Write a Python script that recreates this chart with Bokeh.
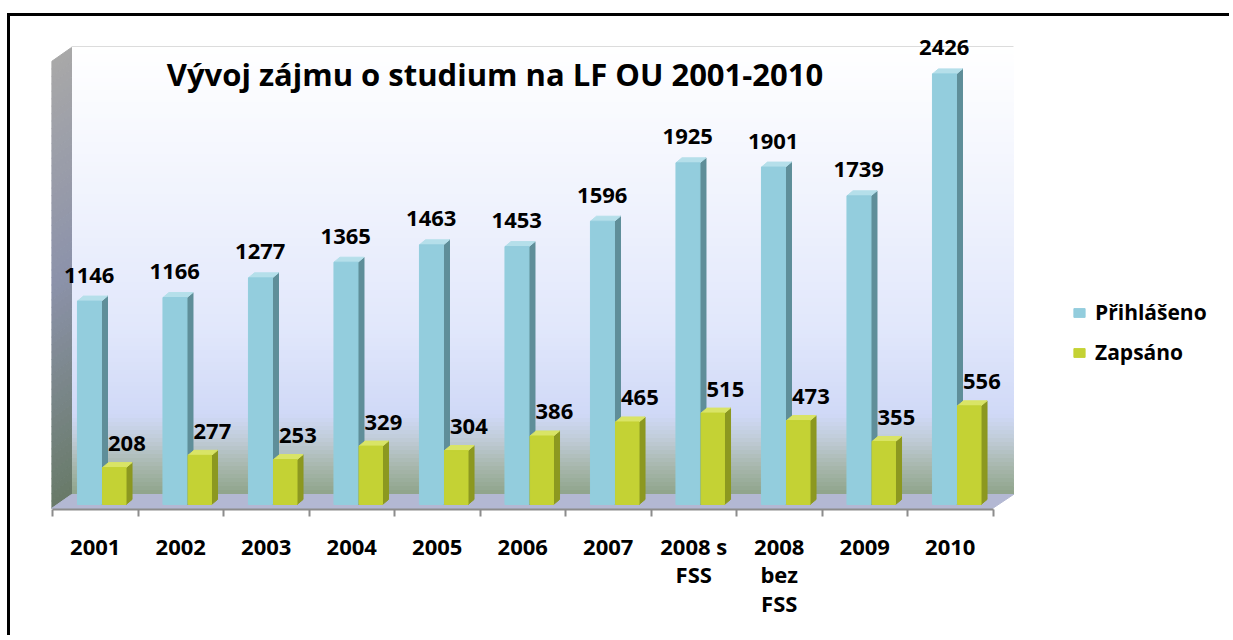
import numpy as np
from bokeh.plotting import figure
from bokeh.models import (LinearAxis, FixedTicker, Range1d, Legend, LegendItem,
                          ColumnDataSource, Label)
from bokeh.core.properties import value
from bokeh.embed import file_html
from bokeh.resources import INLINE

# ---------------- data ----------------
categories = ["2001", "2002", "2003", "2004", "2005", "2006", "2007",
              "2008 s\nFSS", "2008\nbez\nFSS", "2009", "2010"]
prihlaseno = [1146, 1166, 1277, 1365, 1463, 1453, 1596, 1925, 1901, 1739, 2426]
zapsano = [208, 277, 253, 329, 304, 386, 465, 515, 473, 355, 556]
series_names = ["Přihlášeno", "Zapsáno"]
title_text = "Vývoj zájmu o studium na LF OU 2001-2010"

# ---------------- layout helpers (page pixels -> data) ----------------
PX_PER_CAT = 85.5
PX_PER_UNIT = 0.1775
X0_PAGE = 53
BASE_PAGE = 505
FONT = "Open Sans"


def X(px):
    return (px - X0_PAGE) / PX_PER_CAT


def Y(py):
    return (BASE_PAGE - py) / PX_PER_UNIT


FL, FR, FT, FB = 52, 1230, 17, 510

p = figure(frame_width=FR - FL, frame_height=FB - FT,
           x_range=Range1d(X(FL), X(FR)), y_range=Range1d(Y(FB), Y(FT)),
           x_axis_type=None, y_axis_type=None,
           toolbar_location=None, output_backend="svg",
           min_border_left=41, min_border_right=0, min_border_top=0,
           min_border_bottom=126)
p.margin = (13, 0, 0, 7)
p.styles = {"border-top": "3px solid black", "border-left": "3px solid black"}
p.outline_line_color = None
p.background_fill_color = "white"
p.border_fill_color = "white"


def lerp_color(stops, py):
    for (y0, c0), (y1, c1) in zip(stops[:-1], stops[1:]):
        if y0 <= py <= y1:
            t = (py - y0) / (y1 - y0)
            c = [int(round(a + (b - a) * t)) for a, b in zip(c0, c1)]
            return "#%02x%02x%02x" % tuple(c)
    c = stops[-1][1] if py > stops[-1][0] else stops[0][1]
    return "#%02x%02x%02x" % tuple(c)


# back wall gradient
wall_stops = [(47, (255, 255, 255)), (200, (240, 243, 253)), (330, (225, 231, 251)),
              (415, (208, 217, 247)), (440, (192, 204, 216)), (468, (167, 183, 172)),
              (495, (143, 164, 138))]
step = 4
ys_top, ys_bot, cols = [], [], []
for py in range(47, 495, step):
    ys_top.append(Y(py))
    ys_bot.append(Y(min(py + step, 495)))
    cols.append(lerp_color(wall_stops, py + step / 2))
p.quad(left=X(72), right=X(1014), top=ys_top, bottom=ys_bot,
       fill_color=cols, line_color=cols, line_width=1)
p.line([X(72), X(1014)], [Y(47), Y(47)], line_color="#dcdcdc", line_width=1)

# side wall gradient
side_stops = [(0.0, (168, 168, 168)), (0.5, (140, 146, 170)), (1.0, (104, 122, 104))]
n = 60
sxs, sys_, scols = [], [], []
for i in range(n):
    t0, t1 = i / n, (i + 1) / n
    yl0, yl1 = 62 + (509 - 62) * t0, 62 + (509 - 62) * t1
    yr0, yr1 = 48 + (495 - 48) * t0, 48 + (495 - 48) * t1
    sxs.append([X(52), X(72), X(72), X(52)])
    sys_.append([Y(yl0), Y(yr0), Y(yr1), Y(yl1)])
    scols.append(lerp_color(side_stops, (t0 + t1) / 2))
p.patches(sxs, sys_, fill_color=scols, line_color=scols, line_width=1)

# floor
p.patch([X(52), X(72), X(1014), X(993)], [Y(509), Y(495), Y(495), Y(509)],
        fill_color="#b3b8d3", line_color="#b3b8d3")

# ---------------- bars ----------------
idx = np.arange(len(categories))
DX = 6 / PX_PER_CAT
DY = 5 / PX_PER_UNIT


def bar3d(left, right, vals, front, side, top):
    src = ColumnDataSource(dict(left=left, right=right, top=vals,
                                bottom=[0] * len(vals)))
    sx = [[r, r + DX, r + DX, r] for r in right]
    sy = [[0, DY, v + DY, v] for v in vals]
    tx = [[l, l + DX, r + DX, r] for l, r in zip(left, right)]
    ty = [[v, v + DY, v + DY, v] for v in vals]
    p.patches(sx, sy, fill_color=side, line_color=side)
    p.patches(tx, ty, fill_color=top, line_color=top)
    return p.quad(left="left", right="right", top="top", bottom="bottom",
                  source=src, fill_color=front, line_color=front)


rb = bar3d(list(idx + 0.292), list(idx + 0.573), prihlaseno,
           "#93cddd", "#5f8e99", "#b5dfea")
ry = bar3d(list(idx + 0.585), list(idx + 0.860), zapsano,
           "#c4d234", "#8c9820", "#d9e466")

# value labels
p.text(x=list(idx + 0.43), y=prihlaseno, text=[str(v) for v in prihlaseno],
       text_align="center", text_baseline="middle", y_offset=-26,
       text_font=value(FONT), text_font_size="22px", text_font_style="bold",
       text_color="black")
p.text(x=list(idx + 0.87), y=zapsano, text=[str(v) for v in zapsano],
       text_align="center", text_baseline="middle", y_offset=-24,
       text_font=value(FONT), text_font_size="22px", text_font_style="bold",
       text_color="black")

# ---------------- axis ----------------
xaxis = LinearAxis(
    ticker=FixedTicker(ticks=[k + 0.5 for k in range(len(categories))],
                       minor_ticks=list(range(len(categories) + 1))),
    bounds=(0, len(categories)),
    major_label_overrides={k + 0.5: c for k, c in enumerate(categories)},
    major_tick_line_color=None, major_tick_out=0, major_tick_in=0,
    minor_tick_line_color="#8c8c8c", minor_tick_line_width=2,
    minor_tick_out=7, minor_tick_in=0,
    axis_line_color="#8c8c8c", axis_line_width=2,
    major_label_text_font=FONT, major_label_text_font_size="22px",
    major_label_text_font_style="bold", major_label_text_color="black",
    major_label_standoff=14, major_label_text_line_height=0.95)
p.add_layout(xaxis, "below")

# ---------------- title ----------------
p.add_layout(Label(x=X(495.5), y=Y(74), text=title_text, text_align="center",
                   text_baseline="alphabetic", text_font=FONT,
                   text_font_size="31px", text_font_style="bold",
                   text_color="black"))

# ---------------- legend ----------------
legend = Legend(items=[LegendItem(label=series_names[0], renderers=[rb]),
                       LegendItem(label=series_names[1], renderers=[ry])],
                location=(1021, 143), orientation="vertical",
                glyph_width=14, glyph_height=11, label_standoff=9,
                spacing=12, padding=0, margin=0, label_height=24,
                border_line_color=None, background_fill_alpha=0,
                label_text_font=FONT, label_text_font_size="21px",
                label_text_font_style="bold", label_text_color="black")
p.add_layout(legend)

open("out.html", "w").write(file_html(p, INLINE))
